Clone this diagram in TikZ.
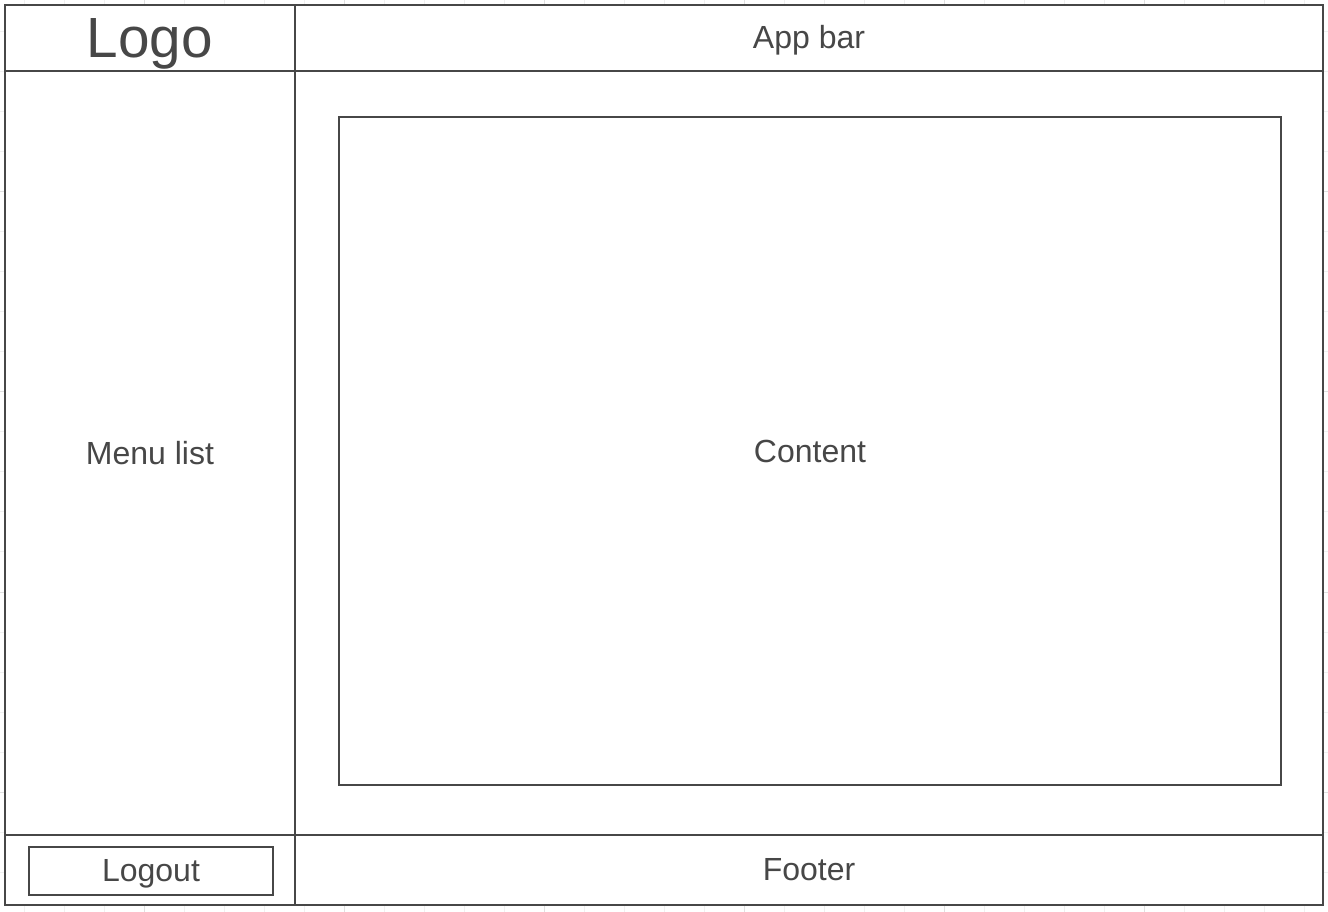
\documentclass[tikz,border=0pt]{standalone}
\usepackage{fontspec}
\setmainfont{Liberation Sans}
\definecolor{frame}{HTML}{474747}
\definecolor{gridminor}{HTML}{F0F0F0}
\definecolor{gridmajor}{HTML}{E0E0E0}

\begin{document}
\begin{tikzpicture}[x=0.75pt, y=-0.75pt,
    pane/.style={draw=frame, line width=1.5pt},
    box/.style={draw=frame, line width=1.5pt, text=frame, inner sep=0pt,
        font=\fontsize{24}{28}\selectfont},
    caption/.style={text=frame, inner sep=0pt, anchor=base,
        font=\fontsize{24}{28}\selectfont}]
    \useasboundingbox (0,0) rectangle (1328,912);
    % grid behind the page
    \foreach \x in {24,64,...,1304}
        \draw[gridminor, line width=0.75pt] (\x,0) -- (\x,912);
    \foreach \y in {32,72,...,912}
        \draw[gridminor, line width=0.75pt] (0,\y) -- (1328,\y);
    \foreach \x in {144,344,...,1144}
        \draw[gridmajor, line width=0.75pt] (\x,0) -- (\x,912);
    \foreach \y in {192,392,...,792}
        \draw[gridmajor, line width=0.75pt] (0,\y) -- (1328,\y);
    % page frame
    \fill[white] (5,5) rectangle (1323,905);
    \draw[pane] (5,5) rectangle (1323,905);
    \draw[pane] (295,5) -- (295,905);
    \draw[pane] (5,71) -- (1323,71);
    \draw[pane] (5,835) -- (1323,835);
    % texts and boxes
    \node[caption, font=\fontsize{42.5}{48}\selectfont] (logo) at (150,58) {Logo};
    \node[caption] (appbar) at (809,49) {App bar};
    \node[caption] (menu) at (150,465) {Menu list};
    \node[box, minimum width=706.5pt, minimum height=501pt] (content) at (810,451) {Content};
    \node[box, minimum width=183pt, minimum height=36pt, text depth=1pt] (logout) at (151,871) {Logout};
    \node[caption] (footer) at (809,880) {Footer};
\end{tikzpicture}
\end{document}
